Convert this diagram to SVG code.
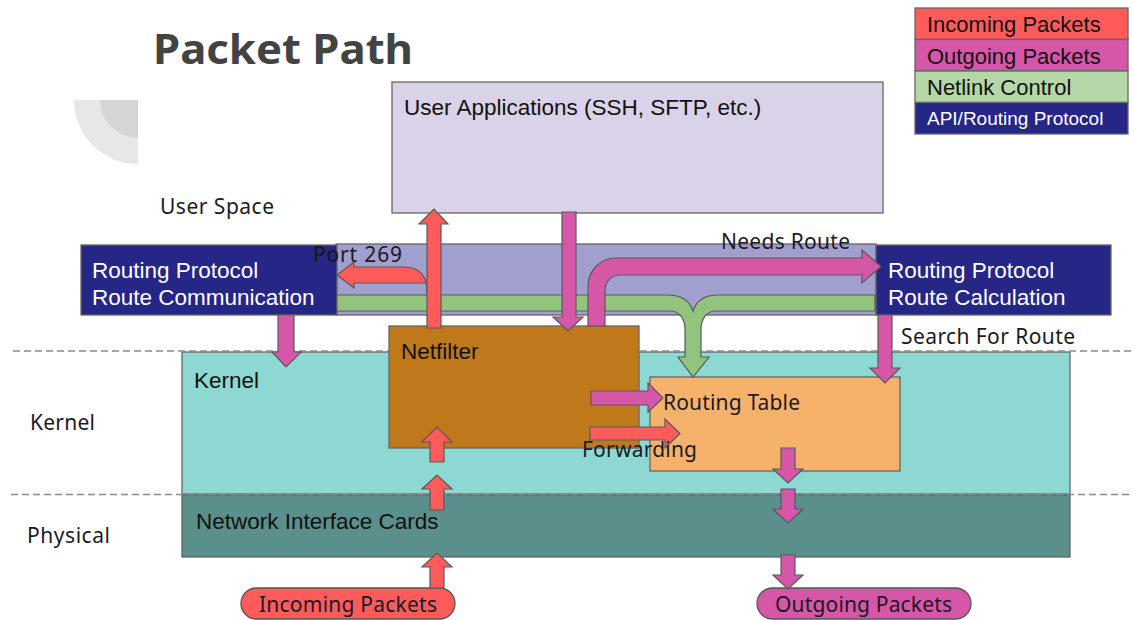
<svg xmlns="http://www.w3.org/2000/svg" width="1133" height="620" viewBox="0 0 1133 620">
<style>
.box{stroke:#666;stroke-width:1.3}
.navy{fill:#262686}
.arial{font-family:"Liberation Sans",Arial,sans-serif;font-size:22.5px;fill:#111}
.wt{fill:#fff}
.nun{font-family:"Noto Sans","Open Sans",sans-serif;font-size:21px;fill:#1a1a24}
.red{fill:#ff5b5b;stroke:#5a5a5a;stroke-width:1.2}
.mag{fill:#d656a8;stroke:#5a5a5a;stroke-width:1.2}
.grn{fill:#93c47d;stroke:#5a5a5a;stroke-width:1.2}
.dash{stroke:#8a8a8a;stroke-width:1.5;stroke-dasharray:7 4;fill:none}
</style>
<defs>
<clipPath id="navyclip"><rect x="80" y="245" width="257" height="70"/></clipPath>
</defs>
<rect width="1133" height="620" fill="#fff"/>

<g id="decor">
<path d="M138 100 L74 100 A64 64 0 0 0 138 164 Z" fill="#e7e7e7"/>
<path d="M138 100 L100 100 A38 38 0 0 0 138 138 Z" fill="#d5d5d5"/>
</g>
<g id="title"><text x="153" y="64" font-family="Noto Sans, Open Sans, sans-serif" font-weight="700" font-size="42" fill="#434343" textLength="260" lengthAdjust="spacingAndGlyphs">Packet Path</text></g>

<g id="legend">
<rect x="915" y="8" width="213" height="31.5" fill="#ff5b5b" class="box"/>
<rect x="915" y="39.5" width="213" height="31.5" fill="#d656a8" class="box"/>
<rect x="915" y="71" width="213" height="31.5" fill="#b6d7a8" class="box"/>
<rect x="915" y="102.5" width="213" height="31.5" fill="#262686" class="box"/>
<text x="927" y="32" class="arial" style="font-size:22px">Incoming Packets</text>
<text x="927" y="63.5" class="arial" style="font-size:22px">Outgoing Packets</text>
<text x="927" y="95" class="arial" style="font-size:22px">Netlink Control</text>
<text x="927" y="125" class="arial wt" style="font-size:19px">API/Routing Protocol</text>
</g>

<g id="layer-labels">
<text x="160" y="214" class="nun" textLength="114">User Space</text>
<text x="30" y="430" class="nun" textLength="65">Kernel</text>
<text x="27" y="543" class="nun" textLength="83">Physical</text>
</g>

<g id="kernel"><rect x="182" y="352" width="888" height="142" fill="#8dd8d2" class="box"/>
<text x="194" y="388" class="arial">Kernel</text></g>
<g id="nic"><rect x="182" y="495" width="888" height="62" fill="#5a8f8c" class="box"/>
<text x="196" y="529" class="arial">Network Interface Cards</text></g>

<g id="dividers">
<line x1="13" y1="351" x2="1133" y2="351" class="dash"/>
<line x1="11" y1="494.5" x2="1133" y2="494.5" class="dash"/>
</g>

<g id="user-apps"><rect x="392" y="82" width="491" height="131" fill="#d9d2e9" class="box"/>
<text x="404" y="115" class="arial">User Applications (SSH, SFTP, etc.)</text></g>

<g id="netlink-channel"><rect x="336" y="244" width="540" height="71" fill="#a09fcd" class="box"/></g>

<g id="rp-comm"><rect x="81" y="245" width="256" height="70" class="navy box"/>
<text x="92" y="278" class="arial wt">Routing Protocol</text>
<text x="92" y="305" class="arial wt">Route Communication</text></g>

<g id="rp-calc"><rect x="876" y="245" width="235" height="70" class="navy box"/>
<text x="888" y="278" class="arial wt">Routing Protocol</text>
<text x="888" y="305" class="arial wt">Route Calculation</text></g>

<g id="netfilter"><rect x="389" y="326" width="250" height="122" fill="#bf781a" class="box"/>
<text x="401" y="359" class="arial">Netfilter</text></g>

<g id="routing-table"><rect x="650" y="377" width="250" height="94" fill="#f6b26b" class="box"/></g>

<g id="incoming"><rect x="241" y="588" width="214" height="31" rx="15.5" fill="#ff5b5b" stroke="#555" stroke-width="1.3"/>
<text x="259" y="612" class="nun" textLength="178">Incoming Packets</text></g>
<g id="outgoing"><rect x="757" y="588" width="214" height="31" rx="15.5" fill="#d656a8" stroke="#555" stroke-width="1.3"/>
<text x="775" y="612" class="nun" textLength="177">Outgoing Packets</text></g>

<g id="connectors">
<path class="grn" d="M337 295 H668 C682 295 690 302 693 311 C696 302 704 295 718 295 H875 V311 H716 C706 311 701 319 701 330 V357 H709 L693 377 L678 357 H685 V330 C685 319 680 311 670 311 H337 Z"/>
<path class="red" d="M427 292 C427 276 420 267 404 267 H354 V262 L337 275 L354 288 V283 H427 Z"/>
<path class="red" d="M427 328 V224 H419 L434 209 L448 224 H441 V328 Z"/>
<path class="mag" d="M562 212 V317 H553 L568 331 L583 317 H576 V212 Z"/>
<path class="mag" d="M588 326 V286 A28 28 0 0 1 616 258 H862 V250 L881 266.5 L862 283 V275 H620 A15 15 0 0 0 605 290 V326 Z"/>
<path class="mag" d="M278 315 V352 H272 L286 367 L301 352 H294 V315 Z"/>
<path class="mag" d="M878 315 V368 H870 L885 383 L900 368 H892 V315 Z"/>
<path class="mag" d="M591 391 H648 V383 L663 398 L648 412 V405 H591 Z"/>
<path class="red" d="M590 427 H665 V419 L680 433.5 L665 448 V440 H590 Z"/>
<path class="red" d="M430 462 V442 H422 L437 427 L452 442 H444 V462 Z"/>
<path class="red" d="M430 510 V489 H422 L437 475 L452 489 H444 V510 Z"/>
<path class="red" d="M430 588 V567 H422 L437 553 L452 567 H444 V588 Z"/>
<path class="mag" d="M781 448 V469 H773 L788 483 L803 469 H795 V448 Z"/>
<path class="mag" d="M781 489 V509 H773 L788 523 L803 509 H795 V489 Z"/>
<path class="mag" d="M781 555 V575 H773 L788 589 L803 575 H795 V555 Z"/>
<text x="313" y="262" class="nun" textLength="89">Port 269</text>
<text x="313" y="262" class="nun wt" textLength="89" clip-path="url(#navyclip)">Port 269</text>
<text x="721" y="249" class="nun" textLength="129">Needs Route</text>
<text x="901" y="344" class="nun" textLength="174">Search For Route</text>
<text x="663" y="410" class="nun" textLength="137">Routing Table</text>
<text x="582" y="457" class="nun" textLength="115">Forwarding</text>
</g>
</svg>
